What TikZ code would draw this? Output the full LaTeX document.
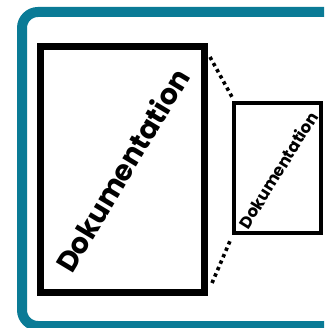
\documentclass[tikz,border=0pt]{standalone}
\usepackage{fontspec}
\usetikzlibrary{calc}
\newfontfamily\pop{Poppins}
\definecolor{teal1}{HTML}{0A7B96}
\begin{document}
\begin{tikzpicture}[x=1pt,y=-1pt,
  doc/.style={draw=black,fill=white,inner sep=0pt},
  lbl/.style={inner sep=0pt},
  dotline/.style={line width=3.6pt,dash pattern=on 3.4pt off 3.6pt}]
\useasboundingbox (0,0) rectangle (324,328);
\clip (0,0) rectangle (324,328);
\fill[white] (0,0) rectangle (324,328);
\draw[teal1,line width=10pt,rounded corners=16pt] (22,12) rectangle (340,326);
\node[doc,line width=7pt,minimum width=164pt,minimum height=246pt] (big) at (122.5,169.5) {};
\node[doc,line width=4pt,minimum width=87pt,minimum height=130pt] (small) at (277.5,168) {};
\node[lbl,rotate=59,font=\pop\bfseries\fontsize{28.5}{28.5}\selectfont] (bt) at (122,170) {Dokumentation};
\node[lbl,rotate=58,font=\pop\bfseries\fontsize{16.5}{16.5}\selectfont] (st) at (278,170) {Dokumentation};
\coordinate (a1) at ($(big.north east)+(2,14)$);
\coordinate (a2) at ($(small.north west)+(0,-4)$);
\coordinate (b1) at ($(big.south east)+(4,-13)$);
\coordinate (b2) at ($(small.south west)+(-2,6)$);
\draw[dotline] (a1) -- (a2);
\draw[dotline] (b1) -- (b2);
\end{tikzpicture}
\end{document}
